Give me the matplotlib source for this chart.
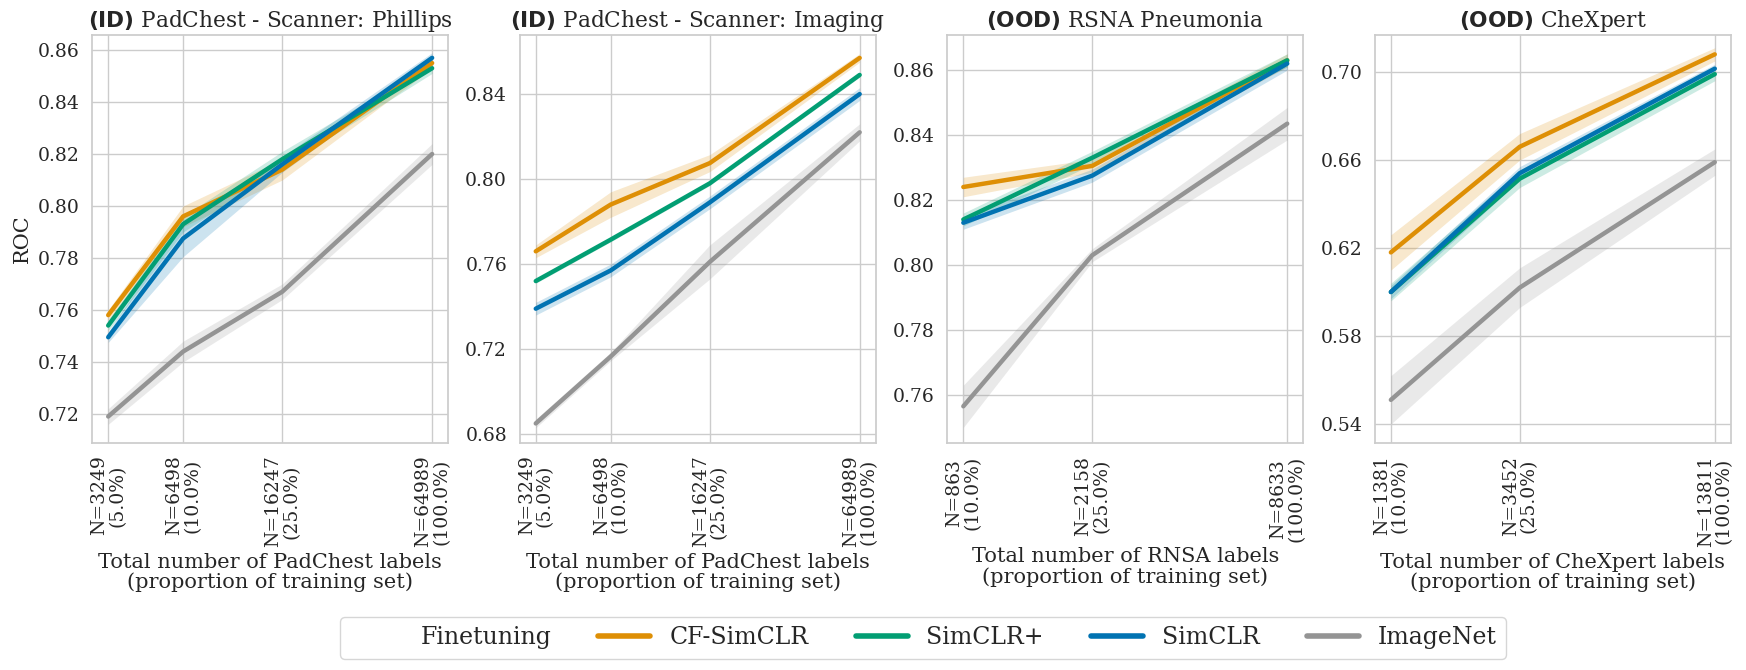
import numpy as np
import matplotlib
matplotlib.use("Agg")
import matplotlib.pyplot as plt
import seaborn as sns
from matplotlib.lines import Line2D
from matplotlib.ticker import NullLocator

sns.set_theme(style="whitegrid")
plt.rcParams['font.family'] = ['DejaVu Serif']

methods = ['CF-SimCLR', 'SimCLR+', 'SimCLR', 'ImageNet']
colors = ['#DE8F05', '#029E73', '#0173B2', '#949494']

# panel 1: PadChest - Phillips
n_phillips = [3249, 6498, 16247, 64989]
pct_phillips = [5.0, 10.0, 25.0, 100.0]
roc_phillips = [
    [0.758, 0.796, 0.814, 0.855],
    [0.754, 0.793, 0.818, 0.853],
    [0.7495, 0.7875, 0.816, 0.857],
    [0.719, 0.744, 0.767, 0.820],
]
ci_phillips = [
    [0.002, 0.004, 0.004, 0.002],
    [0.002, 0.003, 0.003, 0.002],
    [0.002, 0.007, 0.003, 0.002],
    [0.003, 0.004, 0.003, 0.004],
]

# panel 2: PadChest - Imaging
n_imaging = [3249, 6498, 16247, 64989]
pct_imaging = [5.0, 10.0, 25.0, 100.0]
roc_imaging = [
    [0.766, 0.788, 0.8075, 0.857],
    [0.752, 0.7715, 0.798, 0.849],
    [0.739, 0.757, 0.789, 0.840],
    [0.685, 0.7165, 0.761, 0.822],
]
ci_imaging = [
    [0.003, 0.006, 0.004, 0.002],
    [0.001, 0.001, 0.001, 0.001],
    [0.003, 0.003, 0.003, 0.003],
    [0.002, 0.002, 0.008, 0.004],
]

# panel 3: RSNA
n_rsna = [863, 2158, 8633]
pct_rsna = [10.0, 25.0, 100.0]
roc_rsna = [
    [0.824, 0.8305, 0.863],
    [0.814, 0.833, 0.863],
    [0.813, 0.8275, 0.862],
    [0.7565, 0.803, 0.8435],
]
ci_rsna = [
    [0.003, 0.002, 0.002],
    [0.002, 0.002, 0.002],
    [0.002, 0.002, 0.002],
    [0.0065, 0.002, 0.005],
]

# panel 4: CheXpert
n_chexpert = [1381, 3452, 13811]
pct_chexpert = [10.0, 25.0, 100.0]
roc_chexpert = [
    [0.618, 0.666, 0.708],
    [0.600, 0.6515, 0.699],
    [0.600, 0.654, 0.7015],
    [0.551, 0.602, 0.659],
]
ci_chexpert = [
    [0.008, 0.006, 0.003],
    [0.004, 0.004, 0.003],
    [0.003, 0.003, 0.002],
    [0.011, 0.009, 0.006],
]

panels = [
    (r"$\bf{(ID)}$ PadChest - Scanner: Phillips", "PadChest", n_phillips, pct_phillips,
     roc_phillips, ci_phillips, (0.7088, 0.8658), [0.72, 0.74, 0.76, 0.78, 0.80, 0.82, 0.84, 0.86]),
    (r"$\bf{(ID)}$ PadChest - Scanner: Imaging", "PadChest", n_imaging, pct_imaging,
     roc_imaging, ci_imaging, (0.6758, 0.8678), [0.68, 0.72, 0.76, 0.80, 0.84]),
    (r"$\bf{(OOD)}$ RSNA Pneumonia", "RNSA", n_rsna, pct_rsna,
     roc_rsna, ci_rsna, (0.7452, 0.8708), [0.76, 0.78, 0.80, 0.82, 0.84, 0.86]),
    (r"$\bf{(OOD)}$ CheXpert", "CheXpert", n_chexpert, pct_chexpert,
     roc_chexpert, ci_chexpert, (0.5314, 0.7168), [0.54, 0.58, 0.62, 0.66, 0.70]),
]

fig, axes = plt.subplots(1, 4, figsize=(17.46, 6.70), dpi=100)
fig.subplots_adjust(left=0.0527, right=0.9914, top=0.9478, bottom=0.3388, wspace=0.2)

for ax, (title, dname, n, pct, roc, ci, ylim, yticks) in zip(axes, panels):
    x = np.array(n)
    for vals, err, c in zip(roc, ci, colors):
        vals = np.array(vals)
        err = np.array(err)
        ax.fill_between(x, vals - err, vals + err, color=c, alpha=0.2, linewidth=0)
        ax.plot(x, vals, color=c, linewidth=3.2)
    ax.set_xscale('log')
    ax.set_xticks(x)
    ax.set_xticklabels([f"N={v}\n({p:.1f}%)" for v, p in zip(n, pct)],
                       rotation=90, fontsize=13.5, linespacing=1.0)
    ax.xaxis.set_minor_locator(NullLocator())
    ax.set_ylim(*ylim)
    ax.set_yticks(yticks)
    ax.set_yticklabels([f"{t:.2f}" for t in yticks], fontsize=13.5)
    ax.set_xlabel(f"Total number of {dname} labels\n(proportion of training set)",
                  fontsize=15, linespacing=1.05)
    ax.set_title(title, fontsize=15.6)
    ax.tick_params(axis='both', pad=3)

axes[0].set_ylabel("ROC", fontsize=15)

handles = [Line2D([], [], linestyle='none')]
handles += [Line2D([], [], color=c, linewidth=4) for c in colors]
labels = ['Finetuning'] + methods
fig.legend(handles, labels, loc='center', ncol=5, fontsize=17,
           bbox_to_anchor=(0.5287, 0.048), frameon=True,
           handlelength=2.2, columnspacing=2.0, handletextpad=0.8)

fig.savefig("out.png", dpi=100)
